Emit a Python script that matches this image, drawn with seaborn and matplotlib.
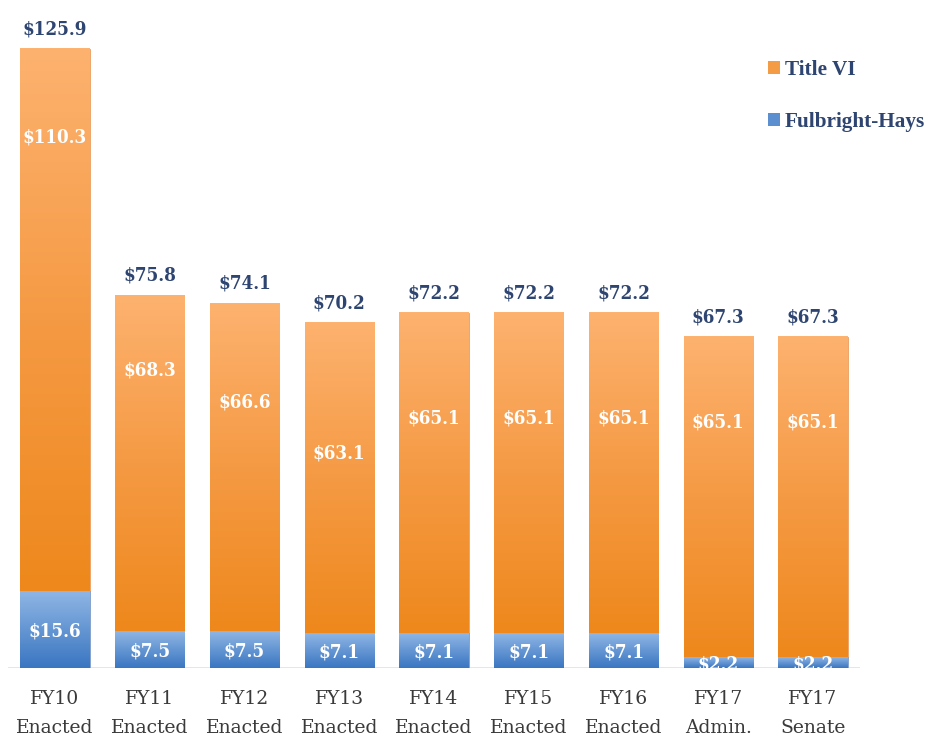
import numpy as np
import pandas as pd
import matplotlib.pyplot as plt
import seaborn as sns
from matplotlib.colors import LinearSegmentedColormap
from matplotlib.patches import Patch

# data ($ millions)
years = ['FY10\nEnacted', 'FY11\nEnacted', 'FY12\nEnacted', 'FY13\nEnacted', 'FY14\nEnacted',
         'FY15\nEnacted', 'FY16\nEnacted', 'FY17\nAdmin.', 'FY17\nSenate']
title_vi = [110.3, 68.3, 66.6, 63.1, 65.1, 65.1, 65.1, 65.1, 65.1]
fulbright = [15.6, 7.5, 7.5, 7.1, 7.1, 7.1, 7.1, 2.2, 2.2]
# where the Title VI labels sit inside the bars (not centred in the original)
title_label_y = [107.8, 60.6, 53.9, 43.7, 50.8, 50.8, 50.8, 50.0, 50.0]

df = pd.DataFrame({'year': years, 'title_vi': title_vi, 'fulbright': fulbright})
df['total'] = df['title_vi'] + df['fulbright']

sns.set_style('white')
plt.rcParams['font.family'] = ['DejaVu Serif', 'DejaVu Sans']

navy = '#2E4571'
orange_cmap = LinearSegmentedColormap.from_list('org', ['#EE881C', '#F59A44', '#FDB26F'])
blue_cmap = LinearSegmentedColormap.from_list('blu', ['#3A76C1', '#8FB6E5'])

fig = plt.figure(figsize=(9.28, 7.38), dpi=100)
ax = fig.add_axes([0.0082, 0.0949, 0.919, 0.9051])

# total bar (orange) then fulbright on top of it at the bottom (blue)
sns.barplot(data=df, x='year', y='total', color='#F59A44', width=0.73, ax=ax,
            edgecolor='#EDA060', linewidth=0.6)
sns.barplot(data=df, x='year', y='fulbright', color='#5B8FD0', width=0.73, ax=ax,
            edgecolor='#7FA6D8', linewidth=0.6)

# gradient fill inside each bar segment
grad = np.linspace(1, 0, 256).reshape(-1, 1)
n = len(df)
for i, p in enumerate(ax.patches):
    x0, y0 = p.get_x(), p.get_y()
    w, h = p.get_width(), p.get_height()
    if i < n:
        # orange part only from top of blue to top of bar
        y0 = df['fulbright'][i]
        h = df['total'][i] - y0
        cmap = orange_cmap
    else:
        cmap = blue_cmap
    ax.imshow(grad, extent=[x0, x0 + w, y0, y0 + h], aspect='auto', cmap=cmap,
              origin='upper', zorder=p.get_zorder() + 0.1)

ax.set_xlim(-0.5, n - 0.5)
ax.set_ylim(0, 135.86)

# labels
lab_kw = dict(ha='center', fontsize=13.5, fontweight='bold', fontstretch='condensed', zorder=5)
for i, row in df.iterrows():
    ax.text(i, row['total'] + 2.2, f"${row['total']:.1f}", va='bottom', color=navy, **lab_kw)
    ax.text(i, title_label_y[i], f"${row['title_vi']:.1f}", va='center', color='white', **lab_kw)
    ax.text(i, row['fulbright'] / 2 - 0.4, f"${row['fulbright']:.1f}", va='center',
            color='white', **lab_kw)

ax.axhline(0, color='#E2E2E2', lw=1.2, zorder=0)
sns.despine(ax=ax, left=True, bottom=True)
ax.set_yticks([])
ax.set_xlabel('')
ax.set_ylabel('')
ax.tick_params(axis='x', length=0, pad=16)
for lab in ax.get_xticklabels():
    lab.set_fontsize(13.5)
    lab.set_color('#3A3A3A')
    lab.set_linespacing(1.8)

handles = [Patch(facecolor='#F49B45', edgecolor='none', label='Title VI'),
           Patch(facecolor='#5B8FD0', edgecolor='none', label='Fulbright-Hays')]
fig.legend(handles=handles, loc='upper left', bbox_to_anchor=(768 / 928, 1 - 60 / 738),
           frameon=False, handlelength=0.55, handleheight=0.55, handletextpad=0.25,
           labelspacing=1.5, borderpad=0, borderaxespad=0,
           prop={'family': 'Liberation Serif', 'weight': 'bold', 'size': 15.3},
           labelcolor=navy)

fig.savefig('out.png', dpi=100)
